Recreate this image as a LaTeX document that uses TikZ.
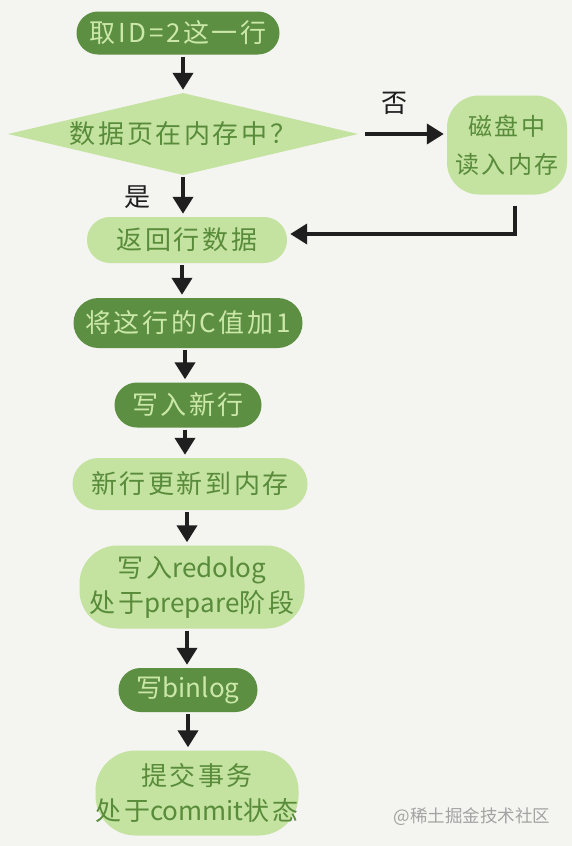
\documentclass[tikz,border=0pt]{standalone}
\usepackage{fontspec}
\setmainfont{Noto Sans CJK SC}
\newfontfamily\handfont{Noto Sans CJK SC}[LetterSpace=10]
\newfontfamily\latfont{Noto Sans CJK SC}
\usetikzlibrary{shapes.geometric,shapes.misc,arrows.meta}
\definecolor{bg}{HTML}{F4F4F0}
\definecolor{dkfill}{HTML}{5C8F42}
\definecolor{ltfill}{HTML}{C4E2A0}
\definecolor{dktext}{HTML}{588B3A}
\definecolor{lttext}{HTML}{CBE8A8}
\definecolor{ink}{HTML}{1F1F1F}
\definecolor{wmark}{HTML}{A3A3A3}
\tikzset{
  base/.style={inner sep=0pt, align=center, font=\handfont\fontsize{26}{36}\selectfont},
  darkpill/.style={base, rounded rectangle, fill=dkfill, text=lttext},
  lightpill/.style={base, rounded rectangle, fill=ltfill, text=dktext},
  lightblob/.style={base, rectangle, rounded corners=32pt, fill=ltfill, text=dktext},
  decision/.style={base, diamond, aspect=4.4, fill=ltfill, text=dktext},
  flow/.style={draw=ink, line width=4pt, -{Triangle[width=20pt,length=17pt]}, shorten <=2pt, shorten >=3pt},
  lbl/.style={font=\fontsize{26}{30}\selectfont, text=ink, inner sep=0pt},
}
\begin{document}
\begin{tikzpicture}[x=1pt,y=-1pt]
\fill[bg] (0,0) rectangle (572,846);
\useasboundingbox (0,0) rectangle (572,846);
\node[darkpill, minimum width=203pt, minimum height=43pt] (n1) at (178,33) {取ID=2这一行};
\node[decision, minimum width=350pt, minimum height=82pt] (n2) at (183,134) {数据页在内存中？};
\node[lightblob, minimum width=120pt, minimum height=99pt, font=\handfont\fontsize{24}{38}\selectfont] (n3) at (507,145) {磁盘中\\读入内存};
\node[lightpill, minimum width=200pt, minimum height=46pt] (n4) at (187,240) {返回行数据};
\node[darkpill, minimum width=229pt, minimum height=50pt] (n5) at (188,323) {将这行的C值加1};
\node[darkpill, minimum width=147pt, minimum height=45pt] (n6) at (188,405) {写入新行};
\node[lightpill, minimum width=235pt, minimum height=52pt] (n7) at (190,484) {新行更新到内存};
\node[lightblob, minimum width=225pt, minimum height=83pt, rounded corners=38pt, font=\handfont\fontsize{26}{35}\selectfont] (n8) at (192,587) {写入{\latfont redolog}\\处于{\latfont prepare}阶段};
\node[darkpill, minimum width=139pt, minimum height=44pt] (n9) at (188,690) {写{\latfont binlog}};
\node[lightblob, minimum width=203pt, minimum height=85pt, rounded corners=40pt, font=\handfont\fontsize{26}{35}\selectfont] (n10) at (197,793) {提交事务\\处于{\latfont commit}状态};
\node[lbl] (yes) at (137,197) {是};
\node[lbl] (no) at (394,103) {否};
\node[font=\fontsize{17.5}{20}\selectfont, text=wmark, inner sep=0pt] (wm) at (472,817) {@稀土掘金技术社区};
\draw[flow] (n1.south -| n2.north) -- (n2.north);
\draw[flow] (n2.south) -- (n2.south |- n4.north);
\draw[flow] ([xshift=-5pt]n4.south) -- ([xshift=-5pt]n4.south |- n5.north);
\draw[flow] ([xshift=-3pt]n5.south) -- ([xshift=-3pt]n5.south |- n6.north);
\draw[flow] ([xshift=-3pt]n6.south) -- ([xshift=-3pt]n6.south |- n7.north);
\draw[flow] ([xshift=-3pt]n7.south) -- ([xshift=-3pt]n7.south |- n8.north);
\draw[flow] ([xshift=-5pt]n8.south) -- ([xshift=-5pt]n8.south |- n9.north);
\draw[flow] (n9.south) -- (n9.south |- n10.north);
\draw[flow, shorten <=7pt] (n2.east) -- (n2.east -| n3.west);
\draw[flow, shorten <=11pt] ([xshift=8pt]n3.south) |- ([yshift=6pt]n4.east);
\end{tikzpicture}
\end{document}
